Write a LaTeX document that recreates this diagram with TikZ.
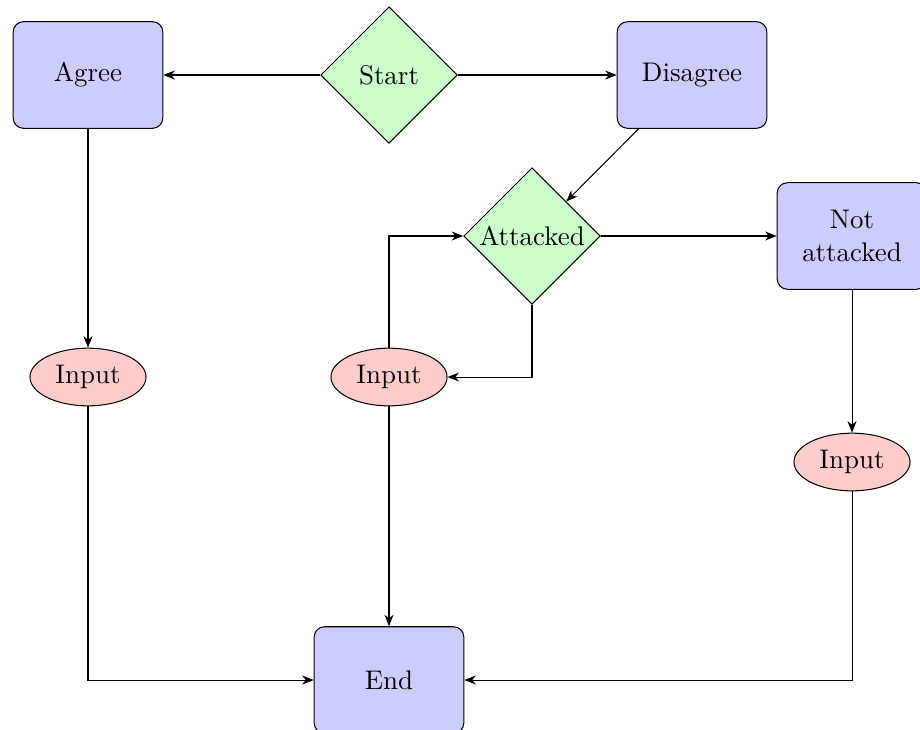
\documentclass[tikz,border=0pt]{standalone}
\usetikzlibrary{shapes.geometric,arrows.meta}
\begin{document}
\begin{tikzpicture}[x=0.0137cm, y=-0.0137cm,
  every node/.style={font=\fontsize{10.5}{12.8}\selectfont},
  >={Stealth[length=4.5pt,width=3.5pt]},
  stepbox/.style={draw, rectangle, rounded corners=4pt, fill=blue!20,
    minimum width=2.05cm, minimum height=1.46cm, align=center, inner sep=2pt},
  choice/.style={draw, diamond, aspect=1, fill=green!20,
    minimum width=1.87cm, minimum height=1.87cm, inner sep=0pt},
  inputnode/.style={draw, ellipse, fill=red!20,
    minimum width=1.59cm, minimum height=0.79cm, inner sep=0pt},
  link/.style={->}]
\useasboundingbox (0,0) rectangle (920,729);

% decisions
\node[choice] (start) at (389,75) {Start};
\node[choice] (attacked) at (532,236) {Attacked};

% process boxes
\node[stepbox] (agree) at (88,75) {Agree};
\node[stepbox] (disagree) at (692,75) {Disagree};
\node[stepbox] (notatt) at (852,236) {Not\\attacked};
\node[stepbox] (end) at (389,680) {End};

% inputs
\node[inputnode] (inA) at (88,377) {Input};
\node[inputnode] (inB) at (389,377) {Input};
\node[inputnode] (inC) at (852,462) {Input};

% connectors
\draw[link] (start.west) -- (agree.east);
\draw[link] (start.east) -- (disagree.west);
\draw[link] (disagree) -- (attacked);
\draw[link] (attacked.east) -- (notatt.west);
\draw[link] (attacked.south) |- (inB.east);
\draw[link] (inB.north) |- (attacked.west);
\draw[link] (inB.south) -- (end.north);
\draw[link] (agree.south) -- (inA.north);
\draw[link] (inA.south) |- (end.west);
\draw[link] (notatt.south) -- (inC.north);
\draw[link] (inC.south) |- (end.east);
\end{tikzpicture}
\end{document}
